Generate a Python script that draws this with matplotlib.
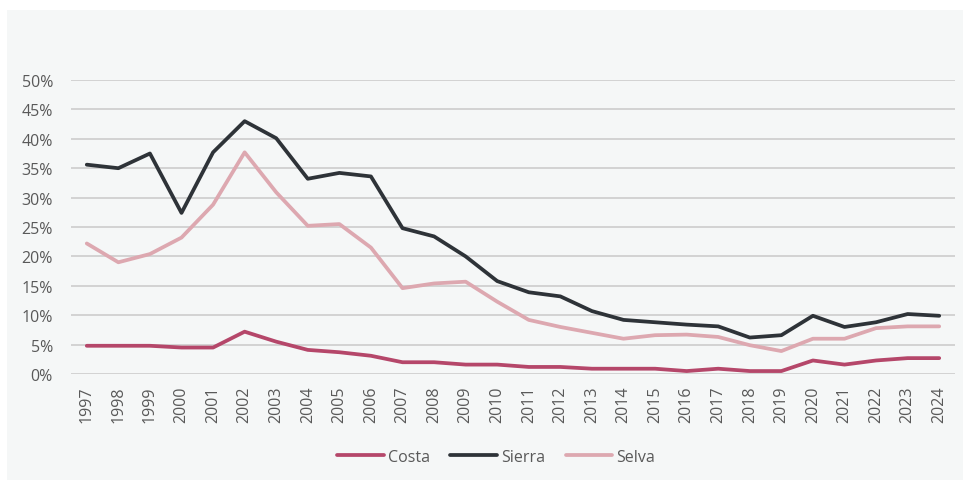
import numpy as np
import matplotlib.pyplot as plt
from matplotlib.patches import Rectangle
from matplotlib.ticker import PercentFormatter

years = list(range(1997, 2025))
costa = [4.8, 4.8, 4.8, 4.5, 4.5, 7.2, 5.5, 4.1, 3.7, 3.1, 2.0, 2.0, 1.6, 1.6,
         1.2, 1.2, 0.9, 0.9, 0.9, 0.5, 0.9, 0.5, 0.5, 2.3, 1.6, 2.3, 2.7, 2.7]
sierra = [35.6, 35.0, 37.5, 27.4, 37.7, 43.0, 40.1, 33.2, 34.2, 33.6, 24.8, 23.4,
          20.0, 15.8, 13.9, 13.2, 10.7, 9.2, 8.8, 8.4, 8.1, 6.2, 6.6, 9.9, 8.0,
          8.8, 10.2, 9.9]
selva = [22.2, 19.0, 20.4, 23.2, 28.8, 37.7, 30.9, 25.2, 25.5, 21.5, 14.6, 15.4,
         15.7, 12.3, 9.2, 8.0, 7.0, 6.0, 6.6, 6.7, 6.3, 4.9, 3.9, 6.0, 6.0, 7.8,
         8.1, 8.1]

plt.rcParams['font.family'] = ['Open Sans', 'DejaVu Sans']
txt = '#595959'
bg = '#F5F7F7'

fig = plt.figure(figsize=(9.63, 4.81), dpi=100)
fig.patch.set_facecolor('white')
fig.patches.append(Rectangle((7 / 963, 0), 1, 470 / 481, transform=fig.transFigure,
                             facecolor=bg, edgecolor='none', zorder=-1))

ax = fig.add_axes([71 / 963, 106 / 481, 884 / 963, 294 / 481])
ax.set_facecolor(bg)
ax.patch.set_alpha(0)

ax.plot(years, costa, color='#B5476A', lw=2.7, label='Costa', solid_capstyle='round')
ax.plot(years, sierra, color='#2E3338', lw=2.7, label='Sierra', solid_capstyle='round')
ax.plot(years, selva, color='#DDA8B0', lw=2.7, label='Selva', solid_capstyle='round')

ax.set_xlim(1996.5, 2024.5)
ax.set_ylim(0, 50)
ax.set_yticks(np.arange(0, 51, 5))
ax.yaxis.set_major_formatter(PercentFormatter(decimals=0))
ax.set_xticks(years)
ax.set_xticklabels([str(y) for y in years], rotation=90)
ax.tick_params(axis='both', length=0, labelsize=11.5, colors=txt)
ax.tick_params(axis='y', pad=13)
ax.tick_params(axis='x', pad=8)
ax.grid(axis='y', color='#D0D0D0', lw=1.3)
ax.set_axisbelow(True)
for s in ax.spines.values():
    s.set_visible(False)

leg = fig.legend(loc='center', bbox_to_anchor=(496 / 963, 1 - 458 / 481), ncol=3,
                 frameon=False, fontsize=11.5, handlelength=2.9, columnspacing=1.3,
                 handletextpad=0.25)
for t in leg.get_texts():
    t.set_color(txt)

fig.savefig('out.png', dpi=100, facecolor=fig.get_facecolor())
